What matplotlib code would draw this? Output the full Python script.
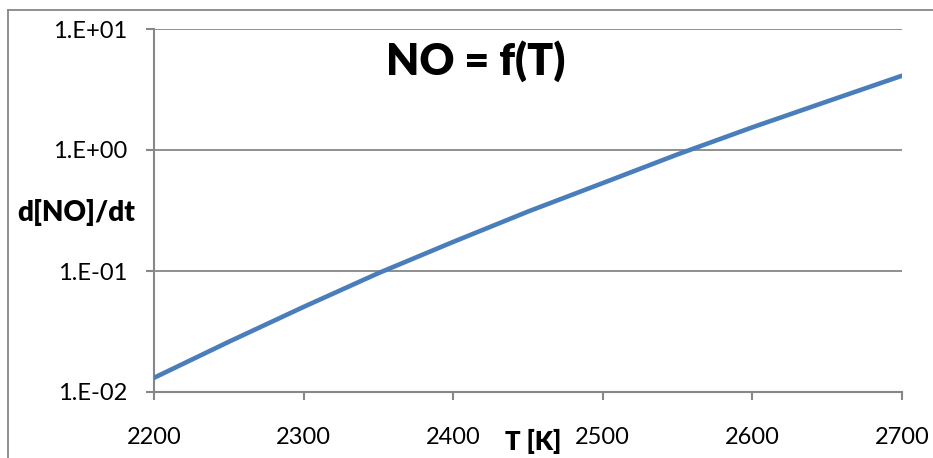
import matplotlib
matplotlib.use("Agg")
import matplotlib.pyplot as plt
from matplotlib.lines import Line2D

# values
temps = [2200, 2250, 2300, 2350, 2400, 2450, 2500, 2550, 2600, 2650, 2700]
rates = [0.0131, 0.026, 0.0505, 0.096, 0.174, 0.31, 0.533, 0.92, 1.54, 2.52, 4.11]
x_ticks = [2200, 2300, 2400, 2500, 2600, 2700]
y_ticks = [0.01, 0.1, 1, 10]
y_labels = ["1.E-02", "1.E-01", "1.E+00", "1.E+01"]

GRAY = "#878787"
plt.rcParams["font.family"] = ["Lato", "DejaVu Sans"]

fig = plt.figure(figsize=(9.33, 4.58), dpi=100)
ax = fig.add_axes([154 / 933, 1 - 392 / 458, 748 / 933, 363 / 458])

ax.plot(temps, rates, color="#4a7ebb", linewidth=3.3, solid_capstyle="round", zorder=3)

ax.set_yscale("log")
ax.set_xlim(2200, 2700)
ax.set_ylim(0.01, 10)
ax.set_xticks(x_ticks)
ax.set_xticklabels([str(t) for t in x_ticks])
ax.set_yticks(y_ticks)
ax.set_yticklabels(y_labels)
ax.yaxis.set_minor_locator(matplotlib.ticker.NullLocator())

ax.grid(True, axis="y", color=GRAY, linewidth=1.3)
ax.set_axisbelow(True)
for side in ("top", "right"):
    ax.spines[side].set_visible(False)
for side in ("left", "bottom"):
    ax.spines[side].set_color(GRAY)
    ax.spines[side].set_linewidth(1.5)

ax.tick_params(axis="x", direction="out", length=6, width=1.5, color=GRAY,
               labelsize=17, pad=19)
ax.tick_params(axis="y", direction="out", length=6, width=1.5, color=GRAY,
               labelsize=17, pad=13)

fig.text(476 / 933, 1 - 61 / 458, "NO = f(T)", fontsize=31, fontweight="heavy",
         ha="center", va="center")
fig.text(76 / 933, 1 - 213 / 458, "d[NO]/dt", fontsize=20, fontweight="heavy",
         ha="center", va="center")
fig.text(533 / 933, 1 - 441 / 458, "T [K]", fontsize=18.5, fontweight="heavy",
         ha="center", va="center")

# outer chart frame (top and left edges visible)
fig.add_artist(Line2D([8 / 933, 1], [1 - 10 / 458] * 2, color=GRAY, linewidth=1.3))
fig.add_artist(Line2D([8 / 933] * 2, [0, 1 - 10 / 458], color=GRAY, linewidth=1.3))

fig.savefig("out.png", dpi=100)
